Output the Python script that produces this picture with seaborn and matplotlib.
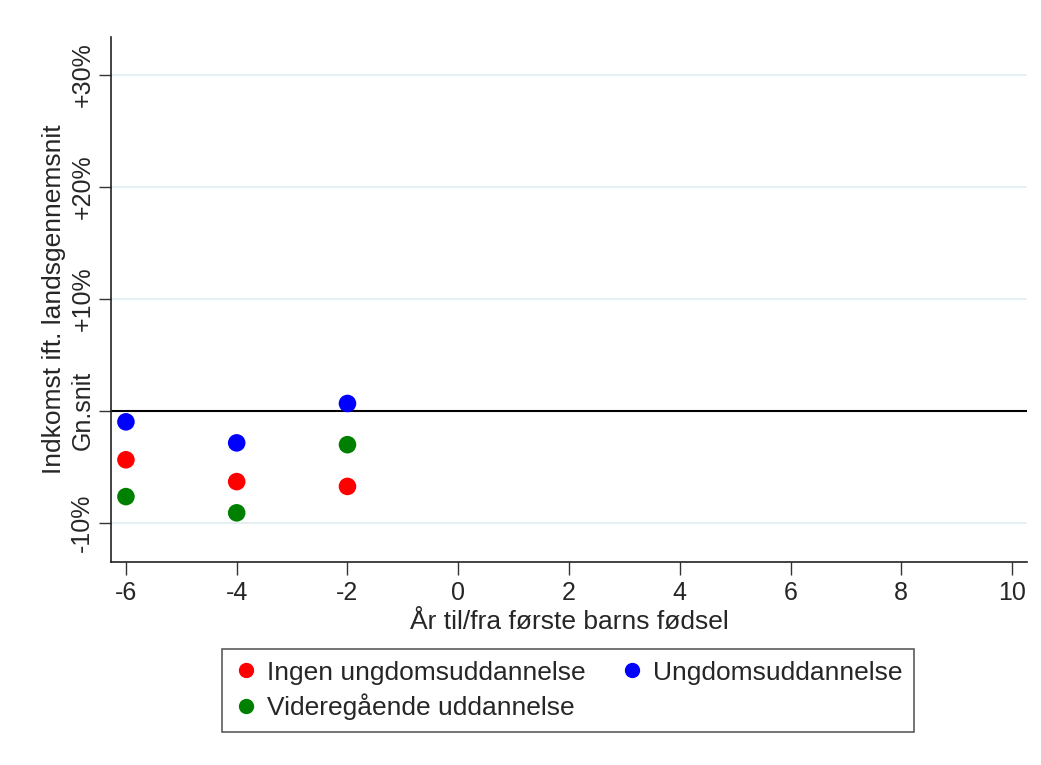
import matplotlib
matplotlib.use("Agg")
import matplotlib.pyplot as plt
import seaborn as sns
import pandas as pd
from matplotlib.lines import Line2D

# Data (percent relative to national average)
years = [-6, -4, -2]
ingen = [-4.37, -6.32, -6.75]
ungdom = [-0.98, -2.86, 0.66]
videre = [-7.66, -9.11, -3.02]
series_names = ["Ingen ungdomsuddannelse", "Ungdomsuddannelse", "Videregående uddannelse"]
colors = ["#ff0000", "#0000ff", "#008000"]

y_ticks = [-10, 0, 10, 20, 30]
y_ticklabels = ["-10%", "Gn.snit", "+10%", "+20%", "+30%"]
x_ticks = [-6, -4, -2, 0, 2, 4, 6, 8, 10]

df = pd.DataFrame({
    "x": years * 3,
    "y": ingen + ungdom + videre,
    "serie": [series_names[0]] * 3 + [series_names[1]] * 3 + [series_names[2]] * 3,
})

sns.set_style("white")
plt.rcParams["font.family"] = ["Liberation Sans", "DejaVu Sans"]

FS = 19
fig = plt.figure(figsize=(10.41, 7.65), dpi=100)
ax = fig.add_axes([0.1066, 0.2654, 0.88, 0.6862])

for yt in [-10, 10, 20, 30]:
    ax.axhline(yt, color="#e6eff1", lw=1.5, zorder=0)
ax.axhline(0, color="black", lw=1.5, zorder=1)

sns.scatterplot(data=df, x="x", y="y", hue="serie", hue_order=series_names,
                palette=colors, s=160, edgecolor="none", legend=False, ax=ax, zorder=3)

ax.set_xlim(-6.27, 10.27)
ax.set_ylim(-13.5, 33.4)
ax.set_xticks(x_ticks)
ax.set_xticklabels([str(t) for t in x_ticks])
ax.set_yticks(y_ticks)
ax.set_yticklabels(y_ticklabels, rotation=90, va="center")
ax.tick_params(axis="both", direction="out", length=9, width=1, color="#333333",
               labelsize=18, bottom=True, left=True)
ax.tick_params(axis="x", pad=5)
ax.tick_params(axis="y", pad=3)
for s in ["top", "right"]:
    ax.spines[s].set_visible(False)
for s in ["left", "bottom"]:
    ax.spines[s].set_color("#222222")
    ax.spines[s].set_linewidth(1.2)

ax.set_xlabel("År til/fra første barns fødsel", fontsize=FS, labelpad=3)
ax.set_ylabel("Indkomst ift. landsgennemsnit", fontsize=FS, labelpad=3)

handles = [Line2D([], [], marker="o", ls="none", color=c, markersize=10) for c in colors]
order = [0, 2, 1]
leg = fig.legend([handles[i] for i in order], [series_names[i] for i in order],
                 ncol=2, loc="center", bbox_to_anchor=(0.5456, 0.0974),
                 fontsize=FS, frameon=True, fancybox=False, edgecolor="#333333",
                 handletextpad=0.35, columnspacing=1.3, borderpad=0.45, labelspacing=0.35,
                 handlelength=0.9)
leg.get_frame().set_linewidth(1.2)

fig.savefig("out.png", dpi=100, facecolor="white")
